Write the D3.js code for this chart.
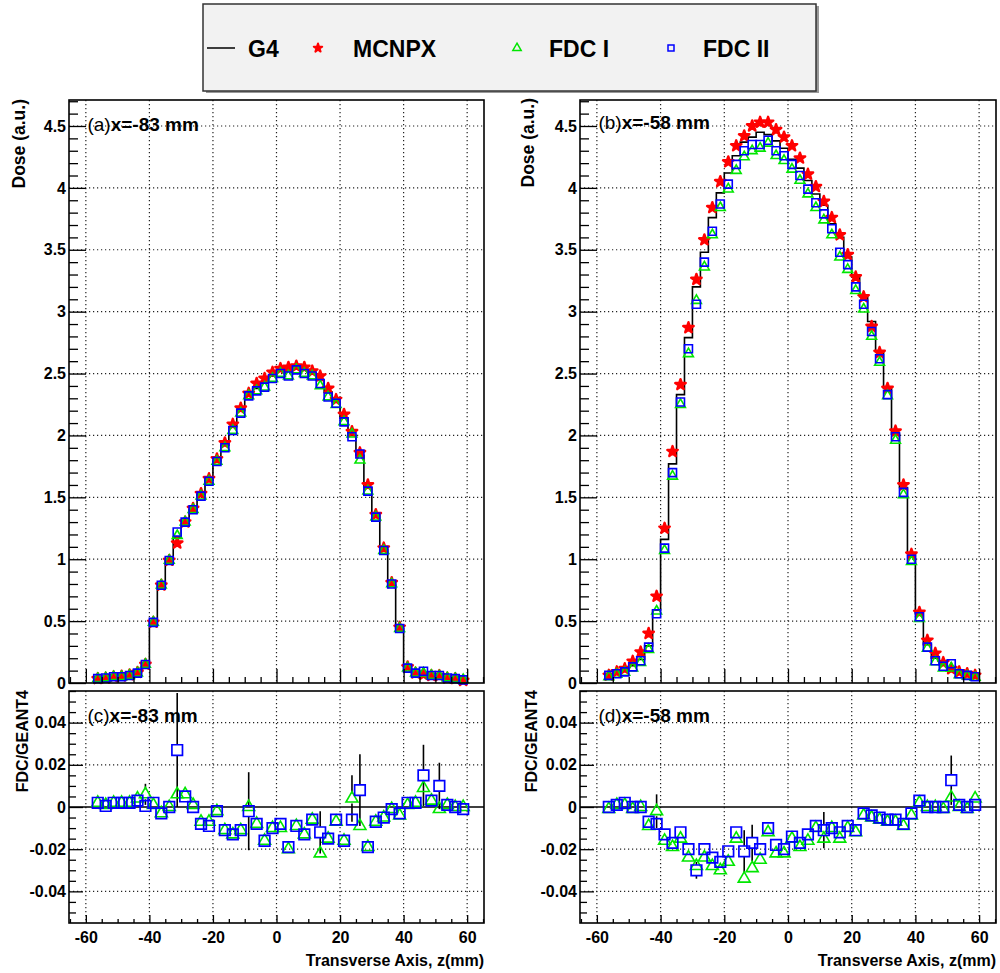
<!DOCTYPE html>
<html>
<head>
<meta charset="utf-8">
<script src="https://cdn.jsdelivr.net/npm/d3@7"></script>
<style>
  body { margin: 0; background: #fff; }
  svg text { font-family: "Liberation Sans", Arial, Helvetica, sans-serif; }
</style>
</head>
<body>
<svg id="chart" width="1000" height="973"></svg>
<script>
// bin centres along z (mm), bin width 2.5 mm
const zCenters = [-56.25,-53.75,-51.25,-48.75,-46.25,-43.75,-41.25,-38.75,-36.25,-33.75,
  -31.25,-28.75,-26.25,-23.75,-21.25,-18.75,-16.25,-13.75,-11.25,-8.75,
  -6.25,-3.75,-1.25,1.25,3.75,6.25,8.75,11.25,13.75,16.25,
  18.75,21.25,23.75,26.25,28.75,31.25,33.75,36.25,38.75,41.25,
  43.75,46.25,48.75,51.25,53.75,56.25,58.75];
const binHalf = 1.25;

// panel (a) x=-83 mm, dose
const g4A = [0.035,0.04,0.05,0.05,0.06,0.08,0.15,0.49,0.79,0.99,
  1.18,1.29,1.40,1.52,1.64,1.79,1.92,2.07,2.20,2.32,
  2.38,2.43,2.48,2.52,2.53,2.55,2.53,2.50,2.45,2.35,
  2.27,2.14,2.00,1.84,1.58,1.35,1.08,0.80,0.44,0.12,
  0.08,0.08,0.06,0.055,0.04,0.035,0.025];
const mcnpxA = [0.035,0.04,0.05,0.055,0.065,0.085,0.15,0.49,0.79,0.99,
  1.13,1.30,1.41,1.53,1.65,1.81,1.94,2.09,2.22,2.34,
  2.42,2.46,2.51,2.54,2.55,2.56,2.55,2.52,2.48,2.38,
  2.29,2.17,2.03,1.86,1.60,1.36,1.09,0.81,0.45,0.13,
  0.08,0.07,0.06,0.06,0.04,0.035,0.02];
const fdc1A = [0.035,0.04,0.05,0.05,0.06,0.08,0.15,0.49,0.79,0.99,
  1.19,1.30,1.40,1.51,1.63,1.79,1.90,2.04,2.18,2.32,
  2.36,2.39,2.46,2.50,2.48,2.53,2.50,2.48,2.40,2.31,
  2.25,2.11,2.01,1.80,1.55,1.34,1.07,0.80,0.44,0.12,
  0.08,0.08,0.06,0.055,0.04,0.035,0.025];
const fdc2A = [0.035,0.04,0.05,0.05,0.06,0.08,0.15,0.49,0.79,0.99,
  1.22,1.30,1.40,1.51,1.63,1.79,1.90,2.04,2.18,2.32,
  2.36,2.39,2.46,2.50,2.48,2.53,2.50,2.48,2.42,2.31,
  2.26,2.11,1.99,1.85,1.55,1.34,1.07,0.80,0.44,0.12,
  0.08,0.095,0.06,0.06,0.04,0.035,0.025];

// panel (b) x=-58 mm, dose
const g4B = [0.065,0.08,0.10,0.14,0.19,0.30,0.59,1.16,1.77,2.33,
  2.79,3.20,3.48,3.76,3.96,4.12,4.26,4.37,4.41,4.45,
  4.43,4.38,4.32,4.23,4.16,4.06,3.95,3.86,3.71,3.60,
  3.44,3.28,3.12,2.92,2.68,2.38,2.01,1.58,1.05,0.56,
  0.31,0.20,0.145,0.12,0.085,0.07,0.055];
const mcnpxB = [0.062,0.09,0.115,0.175,0.25,0.40,0.70,1.25,1.87,2.41,
  2.87,3.26,3.58,3.84,4.05,4.21,4.34,4.42,4.50,4.53,
  4.53,4.47,4.41,4.34,4.24,4.11,4.01,3.89,3.76,3.62,
  3.46,3.28,3.12,2.88,2.67,2.38,2.035,1.60,1.04,0.57,
  0.345,0.24,0.165,0.115,0.09,0.075,0.062];
const fdc1B = [0.05,0.07,0.085,0.12,0.165,0.27,0.58,1.07,1.67,2.25,
  2.66,3.09,3.36,3.62,3.84,3.99,4.14,4.25,4.30,4.32,
  4.36,4.26,4.22,4.15,4.06,3.95,3.84,3.74,3.62,3.44,
  3.34,3.17,3.02,2.80,2.59,2.32,1.96,1.52,0.98,0.52,
  0.28,0.17,0.12,0.12,0.065,0.055,0.045];
const fdc2B = [0.062,0.075,0.09,0.13,0.18,0.29,0.56,1.09,1.70,2.27,
  2.70,3.06,3.40,3.65,3.87,4.03,4.19,4.30,4.35,4.35,
  4.385,4.30,4.26,4.19,4.10,3.99,3.88,3.79,3.67,3.48,
  3.38,3.20,3.06,2.84,2.62,2.33,1.99,1.54,1.00,0.535,
  0.29,0.18,0.135,0.155,0.075,0.062,0.05];

// panel (c) x=-83 mm, FDC/GEANT4 deviation
const ratio1C = [0.002,0.001,0.002,0.002,0.002,0.004,0.006,0.001,-0.003,0,
  0.006,0.006,0.001,-0.007,-0.007,-0.002,-0.011,-0.013,-0.011,0,
  -0.008,-0.016,-0.010,-0.010,-0.020,-0.009,-0.013,-0.006,-0.022,-0.015,
  -0.007,-0.016,0.004,-0.009,-0.019,-0.007,-0.005,-0.001,-0.004,0.001,
  0.002,0.009,0.003,-0.001,0.001,0,0];
const ratio2C = [0.002,0.0005,0.002,0.002,0.002,0.003,0.0005,0.002,-0.003,0,
  0.027,0.005,0,-0.008,-0.009,-0.002,-0.011,-0.013,-0.011,-0.002,
  -0.008,-0.016,-0.010,-0.008,-0.019,-0.009,-0.013,-0.006,-0.012,-0.015,
  -0.006,-0.016,-0.006,0.008,-0.019,-0.007,-0.005,-0.001,-0.003,0.002,
  0.002,0.015,0.003,0.010,0.001,0,-0.001];
const err1C = [0.002,0.002,0.002,0.002,0.002,0.002,0.005,0.002,0.002,0.002,
  0.002,0.002,0.002,0.002,0.002,0.002,0.002,0.002,0.002,0.002,
  0.002,0.002,0.002,0.002,0.002,0.002,0.002,0.002,0.002,0.002,
  0.002,0.002,0.011,0.002,0.002,0.002,0.002,0.002,0.002,0.002,
  0.002,0.002,0.002,0.002,0.002,0.002,0.002];
const err2C = [0.002,0.002,0.002,0.002,0.002,0.002,0.002,0.002,0.002,0.002,
  0.027,0.002,0.002,0.002,0.002,0.002,0.002,0.002,0.002,0.0185,
  0.002,0.002,0.002,0.002,0.002,0.002,0.002,0.002,0.010,0.002,
  0.002,0.002,0.002,0.017,0.002,0.002,0.002,0.002,0.002,0.002,
  0.002,0.0145,0.002,0.011,0.002,0.002,0.002];

// panel (d) x=-58 mm, FDC/GEANT4 deviation
const ratio1D = [-0.001,0.001,0.001,-0.001,0,-0.009,-0.002,-0.016,-0.019,-0.015,
  -0.024,-0.028,-0.024,-0.028,-0.030,-0.026,-0.015,-0.034,-0.029,-0.025,
  -0.012,-0.022,-0.022,-0.015,-0.019,-0.016,-0.010,-0.015,-0.010,-0.015,
  -0.010,-0.012,-0.004,-0.005,-0.006,-0.007,-0.007,-0.009,-0.004,0.002,
  0,0,-0.001,0.0045,0,-0.001,0.004];
const ratio2D = [0,0.001,0.002,0,0,-0.007,-0.008,-0.013,-0.017,-0.012,
  -0.020,-0.030,-0.020,-0.024,-0.026,-0.021,-0.012,-0.021,-0.017,-0.020,
  -0.010,-0.018,-0.020,-0.014,-0.017,-0.013,-0.009,-0.011,-0.010,-0.012,
  -0.009,-0.011,-0.003,-0.004,-0.005,-0.006,-0.006,-0.008,-0.003,0.003,
  0,0,0,0.0127,0.001,0,0.001];
const err1D = [0.002,0.002,0.002,0.002,0.002,0.002,0.008,0.002,0.002,0.002,
  0.002,0.002,0.002,0.002,0.002,0.002,0.002,0.002,0.002,0.002,
  0.002,0.002,0.002,0.002,0.002,0.002,0.002,0.002,0.002,0.002,
  0.002,0.002,0.002,0.002,0.002,0.002,0.002,0.002,0.002,0.002,
  0.002,0.002,0.002,0.002,0.002,0.002,0.002];
const err2D = [0.002,0.002,0.002,0.002,0.002,0.002,0.002,0.002,0.002,0.002,
  0.002,0.004,0.002,0.002,0.002,0.002,0.002,0.010,0.0086,0.002,
  0.002,0.002,0.002,0.002,0.002,0.002,0.002,0.0086,0.002,0.002,
  0.002,0.002,0.002,0.002,0.002,0.002,0.002,0.002,0.002,0.002,
  0.002,0.002,0.002,0.0117,0.002,0.002,0.002];

// axis ticks
const zTicks = [-60, -40, -20, 0, 20, 40, 60];
const doseTicks = [0, 0.5, 1, 1.5, 2, 2.5, 3, 3.5, 4, 4.5];
const ratioTicks = [-0.04, -0.02, 0, 0.02, 0.04];

const legendItems = ["G4", "MCNPX", "FDC I", "FDC II"];

const RED = "#ff0000", GREEN = "#00e600", BLUE = "#0000ff";

const svg = d3.select("#chart");
const cols = [{ x0: 69, x1: 484 }, { x0: 580, x1: 996 }];
const topBox = { y0: 100, y1: 683 };
const botBox = { y0: 691, y1: 923 };
const fmt = d => String(+d.toFixed(3));

function grid(g, x, y, xt, yt, box, y0, y1) {
  const gg = g.append("g")
    .attr("stroke", "#222").attr("stroke-width", 1.2)
    .attr("stroke-dasharray", "1.2,2.8");
  xt.forEach(t => gg.append("line")
    .attr("x1", x(t)).attr("x2", x(t)).attr("y1", y0).attr("y2", y1));
  yt.forEach(t => gg.append("line")
    .attr("x1", box.x0).attr("x2", box.x1).attr("y1", y(t)).attr("y2", y(t)));
}

function axes(g, x, y, box, y1, o) {
  const styleAxis = sel => {
    sel.select(".domain").remove();
    sel.selectAll("line").attr("stroke", "#000").attr("stroke-width", 1.3);
    sel.selectAll("text").attr("fill", "#000")
      .style("font-size", "16px").style("font-weight", "bold");
  };
  g.append("g").attr("transform", `translate(${box.x0},0)`)
    .call(d3.axisLeft(y).tickValues(o.yMinor).tickSize(-o.yMinorLen).tickFormat(""))
    .call(styleAxis);
  g.append("g").attr("transform", `translate(${box.x0},0)`)
    .call(d3.axisLeft(y).tickValues(o.yTicks).tickSize(-o.yMajorLen).tickPadding(3).tickFormat(fmt))
    .call(styleAxis);
  g.append("g").attr("transform", `translate(0,${y1})`)
    .call(d3.axisBottom(x).tickValues(d3.range(-65, 66, 5).filter(v => v % 20 !== 0))
      .tickSize(-o.xMinorLen).tickFormat(""))
    .call(styleAxis);
  g.append("g").attr("transform", `translate(0,${y1})`)
    .call(d3.axisBottom(x).tickValues(zTicks).tickSize(-o.xMajorLen).tickPadding(9)
      .tickFormat(o.xLabels ? fmt : ""))
    .call(styleAxis);
}

function panelLabel(g, xPos, yPos, tag, text) {
  const t = g.append("text").attr("x", xPos).attr("y", yPos)
    .style("font-size", "19px").attr("fill", "#000");
  t.append("tspan").text(tag);
  t.append("tspan").style("font-weight", "bold").text(text);
}

function frame(g, box, y0, y1) {
  g.append("rect").attr("x", box.x0).attr("y", y0)
    .attr("width", box.x1 - box.x0).attr("height", y1 - y0)
    .attr("fill", "none").attr("stroke", "#000").attr("stroke-width", 1.6);
}

function yTitle(g, xc, yEnd, text, size) {
  g.append("text")
    .attr("transform", `translate(${xc},${yEnd}) rotate(-90)`)
    .attr("text-anchor", "end").attr("dy", "0.35em")
    .style("font-size", size).style("font-weight", "bold")
    .text(text);
}

function drawTop(ci, g4, mc, f1, f2, tag, text) {
  const box = cols[ci];
  const g = svg.append("g");
  const x = d3.scaleLinear().domain([-65.3, 65.3]).range([box.x0, box.x1]);
  const y = d3.scaleLinear().domain([0, 4.71]).range([topBox.y1, topBox.y0]);

  grid(g, x, y, zTicks, doseTicks.filter(v => v > 0), box, topBox.y0, topBox.y1);

  // G4 histogram as steps over bin edges
  const steps = [];
  zCenters.forEach((z, i) => {
    steps.push([z - binHalf, g4[i]]);
    steps.push([z + binHalf, g4[i]]);
  });
  g.append("path").datum(steps)
    .attr("fill", "none").attr("stroke", "#000").attr("stroke-width", 1.6)
    .attr("d", d3.line().x(d => x(d[0])).y(d => y(d[1])));

  const star = d3.symbol(d3.symbolStar, 34)();
  const tri = d3.symbol(d3.symbolTriangle, 42)();
  const sq = d3.symbol(d3.symbolSquare, 64)();

  g.append("g").selectAll("path").data(mc).enter().append("path")
    .attr("d", star).attr("transform", (d, i) => `translate(${x(zCenters[i])},${y(d)})`)
    .attr("fill", RED).attr("stroke", RED).attr("stroke-width", 2.4)
    .attr("stroke-linejoin", "round");
  g.append("g").selectAll("path").data(f1).enter().append("path")
    .attr("d", tri).attr("transform", (d, i) => `translate(${x(zCenters[i])},${y(d)})`)
    .attr("fill", "none").attr("stroke", GREEN).attr("stroke-width", 1.6);
  g.append("g").selectAll("path").data(f2).enter().append("path")
    .attr("d", sq).attr("transform", (d, i) => `translate(${x(zCenters[i])},${y(d)})`)
    .attr("fill", "none").attr("stroke", BLUE).attr("stroke-width", 1.6);

  axes(g, x, y, box, topBox.y1, {
    yTicks: doseTicks, yMinor: d3.range(0.1, 4.71, 0.1).filter(v => Math.abs(v * 2 - Math.round(v * 2)) > 0.01),
    yMajorLen: 17, yMinorLen: 9, xMajorLen: 14, xMinorLen: 6, xLabels: false
  });
  frame(g, box, topBox.y0, topBox.y1);
  panelLabel(g, x(-59.5), ci === 0 ? 131 : 129, tag, text);
}

function drawBottom(ci, r1, r2, e1, e2, tag, text) {
  const box = cols[ci];
  const g = svg.append("g");
  const x = d3.scaleLinear().domain([-65.3, 65.3]).range([box.x0, box.x1]);
  const y = d3.scaleLinear().domain([-0.055, 0.055]).range([botBox.y1, botBox.y0]);

  grid(g, x, y, zTicks, ratioTicks.filter(v => v !== 0), box, botBox.y0, botBox.y1);

  g.append("line").attr("x1", box.x0).attr("x2", box.x1)
    .attr("y1", y(0)).attr("y2", y(0))
    .attr("stroke", "#000").attr("stroke-width", 1.6);

  // error bars, drawn outside the open markers
  const eb = g.append("g").attr("stroke", "#000").attr("stroke-width", 1.6);
  [[r1, e1, 5], [r2, e2, 5.5]].forEach(([r, e, h]) => {
    r.forEach((v, i) => {
      const xp = x(zCenters[i]);
      const yt = y(v + e[i]), yb = y(v - e[i]), yc = y(v);
      if (yc - yt > h) eb.append("line").attr("x1", xp).attr("x2", xp).attr("y1", yt).attr("y2", yc - h);
      if (yb - yc > h) eb.append("line").attr("x1", xp).attr("x2", xp).attr("y1", yc + h).attr("y2", yb);
    });
  });

  const tri = d3.symbol(d3.symbolTriangle, 62)();
  const sq = d3.symbol(d3.symbolSquare, 112)();
  g.append("g").selectAll("path").data(r1).enter().append("path")
    .attr("d", tri).attr("transform", (d, i) => `translate(${x(zCenters[i])},${y(d)})`)
    .attr("fill", "none").attr("stroke", GREEN).attr("stroke-width", 1.6);
  g.append("g").selectAll("path").data(r2).enter().append("path")
    .attr("d", sq).attr("transform", (d, i) => `translate(${x(zCenters[i])},${y(d)})`)
    .attr("fill", "none").attr("stroke", BLUE).attr("stroke-width", 1.7);

  axes(g, x, y, box, botBox.y1, {
    yTicks: ratioTicks, yMinor: d3.range(-0.05, 0.0551, 0.005).filter(v => Math.abs(v / 0.02 - Math.round(v / 0.02)) > 0.01),
    yMajorLen: 14, yMinorLen: 7, xMajorLen: 8, xMinorLen: 4, xLabels: true
  });
  frame(g, box, botBox.y0, botBox.y1);
  panelLabel(g, x(-59.5), 722, tag, text);

  g.append("text").attr("x", box.x1).attr("y", 966)
    .attr("text-anchor", "end")
    .style("font-size", "16px").style("font-weight", "bold")
    .text("Transverse Axis, z(mm)");
}

drawTop(0, g4A, mcnpxA, fdc1A, fdc2A, "(a)", "x=-83 mm");
drawTop(1, g4B, mcnpxB, fdc1B, fdc2B, "(b)", "x=-58 mm");
drawBottom(0, ratio1C, ratio2C, err1C, err2C, "(c)", "x=-83 mm");
drawBottom(1, ratio1D, ratio2D, err1D, err2D, "(d)", "x=-58 mm");

yTitle(svg, 19, 99, "Dose (a.u.)", "17.5px");
yTitle(svg, 528, 98, "Dose (a.u.)", "17.5px");
yTitle(svg, 22, 690, "FDC/GEANT4", "16px");
yTitle(svg, 531, 690, "FDC/GEANT4", "16px");

// legend
const leg = svg.append("g");
leg.append("rect").attr("x", 206).attr("y", 6).attr("width", 613).attr("height", 87).attr("fill", "#999");
leg.append("rect").attr("x", 203).attr("y", 4).attr("width", 613).attr("height", 87)
  .attr("fill", "#f2f2f2").attr("stroke", "#333").attr("stroke-width", 1.5);
const ly = 48;
const legendX = [{ m: 221, t: 248 }, { m: 318, t: 353 }, { m: 517, t: 549 }, { m: 671, t: 703 }];
leg.append("line").attr("x1", 207).attr("x2", 235).attr("y1", ly).attr("y2", ly)
  .attr("stroke", "#000").attr("stroke-width", 1.5);
leg.append("path").attr("d", d3.symbol(d3.symbolStar, 22)())
  .attr("transform", `translate(${legendX[1].m},${ly})`).attr("fill", RED).attr("stroke", RED)
  .attr("stroke-width", 2).attr("stroke-linejoin", "round");
leg.append("path").attr("d", d3.symbol(d3.symbolTriangle, 30)())
  .attr("transform", `translate(${legendX[2].m},${ly})`).attr("fill", "none").attr("stroke", GREEN).attr("stroke-width", 1.5);
leg.append("path").attr("d", d3.symbol(d3.symbolSquare, 36)())
  .attr("transform", `translate(${legendX[3].m},${ly})`).attr("fill", "none").attr("stroke", BLUE).attr("stroke-width", 1.5);
legendItems.forEach((name, i) => {
  leg.append("text").attr("x", legendX[i].t).attr("y", ly + 9)
    .style("font-size", "23px").style("font-weight", "bold").text(name);
});
</script>
</body>
</html>
